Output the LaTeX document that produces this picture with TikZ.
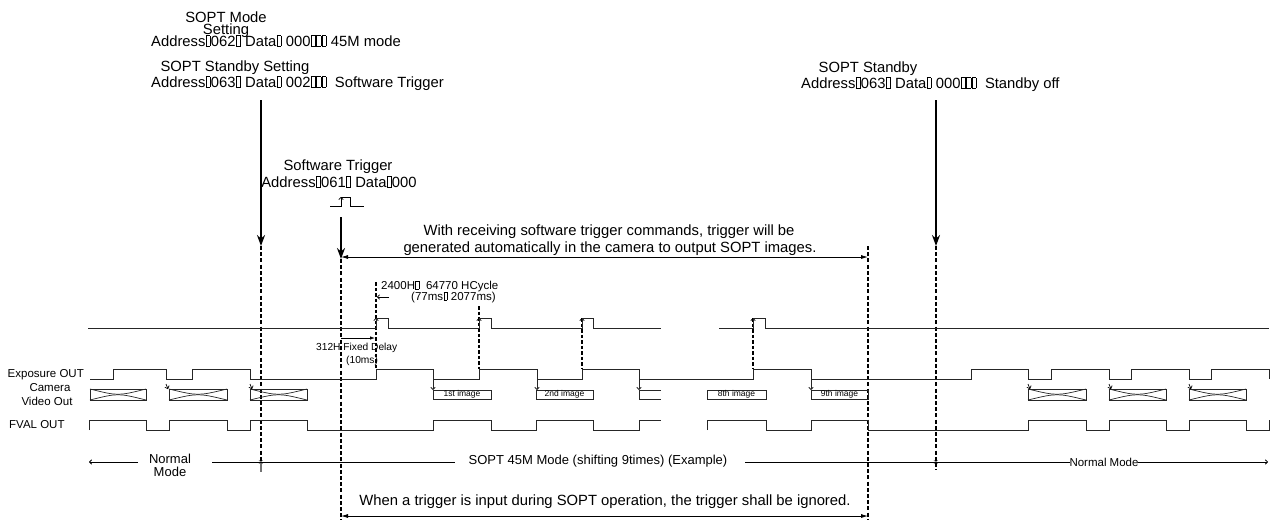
\documentclass[tikz,border=0pt]{standalone}
\usepackage{fontspec}
\setmainfont{Liberation Sans}
\usetikzlibrary{arrows.meta}
\newcommand\tofu{\kern0.4pt{\fboxsep0pt\fboxrule0.45pt\fbox{\rule{0pt}{0.68em}\hspace{0.25em}}}\kern0.4pt}
\begin{document}
\begin{tikzpicture}[x=1pt,y=-1pt,
  wave/.style={line width=0.9pt, draw=black!85},
  bigdash/.style={line width=1.5pt, dash pattern=on 4pt off 2.2pt},
  smalldash/.style={line width=1.1pt, dash pattern=on 3.5pt off 2pt},
  bigarrow/.style={line width=2.4pt, -{Stealth[length=11pt,width=8pt]}},
  spanarrow/.style={line width=0.8pt, {Latex[length=7pt,width=4pt]}-{Latex[length=7pt,width=4pt]}},
  tinytip/.style={line width=0.7pt, -{To[length=3pt,width=5pt]}},
  big/.style={font=\fontsize{14.8}{16}\selectfont, inner sep=0pt},
  mid/.style={font=\fontsize{13}{14}\selectfont, inner sep=0pt},
  lbl/.style={font=\fontsize{11.5}{13}\selectfont, inner sep=0pt},
  small/.style={font=\fontsize{10.2}{11}\selectfont, inner sep=0pt},
  imgbox/.style={draw=black!85, line width=0.9pt, font=\fontsize{8.5}{9}\selectfont, inner sep=0pt}
]
\useasboundingbox (0,0) rectangle (1271,520);

% ---------- top labels ----------
\node[big, anchor=base] (modeA) at (226,22) {SOPT Mode};
\node[big, anchor=base] (modeB) at (226,34) {Setting};
\node[big, anchor=base west] (modeC) at (151,46) {Address\tofu062\tofu\ Data\tofu\ 000\tofu\tofu\tofu\ 45M mode};
\node[big, anchor=base] (stbA) at (235,71) {SOPT Standby Setting};
\node[big, anchor=base west] (stbB) at (151,87) {Address\tofu063\tofu\ Data\tofu\ 002\tofu\tofu\tofu\ \ Software Trigger};

\node[big, anchor=base] (swA) at (338,170) {Software Trigger};
\node[big, anchor=base] (swB) at (339,187) {Address\tofu061\tofu\ Data\tofu000};

\node[big, anchor=base] (offA) at (868,72) {SOPT Standby};
\node[big, anchor=base west] (offB) at (801,88) {Address\tofu063\tofu\ Data\tofu\ 000\tofu\tofu\tofu\ \ Standby off};

% ---------- command arrows ----------
\coordinate (c1t) at (261,100); \coordinate (c1b) at (261,246);
\coordinate (c2t) at (341,217); \coordinate (c2b) at (341,259);
\coordinate (c3t) at (936,100); \coordinate (c3b) at (936,246);
\draw[bigarrow] (c1t) -- (c1b);
\draw[bigarrow] (c2t) -- (c2b);
\draw[bigarrow] (c3t) -- (c3b);

% small pulse glyph
\draw[line width=0.8pt] (330,206) -- (341,206) -- (341,197) -- (350,197) -- (350,206) -- (364,206);
\draw[tinytip] (341,202) -- (341,197);

% ---------- dashed markers ----------
\coordinate (d1a) at (261,246); \coordinate (d1b) at (261,462);
\coordinate (d2a) at (341,259); \coordinate (d2b) at (341,520);
\coordinate (d3a) at (868,246); \coordinate (d3b) at (868,520);
\coordinate (d4a) at (936,246); \coordinate (d4b) at (936,470);
\draw[bigdash] (d1a) -- (d1b);
\draw[black!55, line width=1.2pt] (261,462) -- (261,472);
\draw[bigdash] (d2a) -- (d2b);
\draw[bigdash] (d3a) -- (d3b);
\draw[bigdash] (d4a) -- (d4b);

% ---------- text with span arrow ----------
\node[big, anchor=base] (recA) at (609,235) {With receiving software trigger commands, trigger will be};
\node[big, anchor=base] (recB) at (610,252) {generated automatically in the camera to output SOPT images.};
\coordinate (s1a) at (341,257); \coordinate (s1b) at (868,257);
\draw[spanarrow] (s1a) -- (s1b);

% ---------- timing annotations ----------
\node[lbl, anchor=base west] (hcA) at (381,289) {2400H\tofu\ \ 64770 HCycle};
\node[lbl, anchor=base west] (hcB) at (411,300) {(77ms\tofu\ 2077ms)};
\draw[tinytip] (389,297) -- (377,297);

\draw[smalldash] (376,282) -- (376,369);
\draw[smalldash] (479,306) -- (479,369);
\draw[smalldash] (582,318) -- (582,369);
\draw[smalldash] (753,318) -- (753,369);
\foreach \x in {376,479,582,753} \draw[tinytip] (\x,322) -- (\x,318);

\node[small, anchor=base west] (fdA) at (316,350) {312H Fixed Delay};
\node[small, anchor=base west] (fdB) at (346,363) {(10ms)};
\draw[line width=0.8pt, -{Latex[length=5pt,width=3.5pt]}] (341,338) -- (375,338);

% ---------- row labels ----------
\node[lbl, anchor=base east] (lExp) at (84,377) {Exposure OUT};
\node[lbl, anchor=base] (lCam) at (50,391) {Camera};
\node[lbl, anchor=base] (lVid) at (47,405) {Video Out};
\node[lbl, anchor=base west] (lFval) at (9,428) {FVAL OUT};

% ---------- trigger row ----------
\draw[wave] (88,328) -- (376,328) -- (376,318) -- (388,318) -- (388,328) -- (479,328) -- (479,318) -- (491,318) -- (491,328) -- (582,328) -- (582,318) -- (593,318) -- (593,328) -- (661,328);
\draw[wave] (719,328) -- (753,328) -- (753,318) -- (765,318) -- (765,328) -- (1269,328);

% ---------- exposure row ----------
\draw[wave] (90,379) -- (113,379) -- (113,369) -- (166,369) -- (166,379) -- (192,379) -- (192,369) -- (250,369) -- (250,379) -- (376,379) -- (376,369) -- (433,369) -- (433,379) -- (479,379) -- (479,369) -- (537,369) -- (537,379) -- (582,379) -- (582,369) -- (639,369) -- (639,379) -- (753,379) -- (753,369) -- (811,369) -- (811,379) -- (971,379) -- (971,369) -- (1028,369) -- (1028,379) -- (1051,379) -- (1051,369) -- (1109,369) -- (1109,379) -- (1131,379) -- (1131,369) -- (1189,369) -- (1189,379) -- (1211,379) -- (1211,369) -- (1269,369) -- (1269,379);

% ---------- video row ----------
\foreach \a/\b in {90/146,169/227,250/307,1028/1086,1109/1166,1189/1246}{
  \draw[wave] (\a,389) rectangle (\b,400);
  \draw[wave, line width=0.7pt] (\a,389) .. controls ({(\a+\b)/2},396) .. (\b,389);
  \draw[wave, line width=0.7pt] (\a,400) .. controls ({(\a+\b)/2},393) .. (\b,400);
}
\foreach \x in {166,250,1028,1109,1189} \draw[tinytip] (\x,384) -- (\x+2,389);
\foreach \x in {433,537,639,811} \draw[wave, -{To[length=3pt,width=5pt]}] (\x,379) -- (\x,390);

\node[imgbox, minimum width=58pt, minimum height=9pt] (im1) at (462,394.5) {1st image};
\node[imgbox, minimum width=57pt, minimum height=9pt] (im2) at (564.5,394.5) {2nd image};
\node[imgbox, minimum width=59pt, minimum height=9pt] (im8) at (736.5,394.5) {8th image};
\node[imgbox, minimum width=57pt, minimum height=9pt] (im9) at (839.5,394.5) {9th image};
\draw[wave] (661,390) -- (639,390) -- (639,399) -- (661,399);

% ---------- FVAL row ----------
\draw[wave] (89,430) -- (89,420) -- (146,420) -- (146,430) -- (169,430) -- (169,420) -- (227,420) -- (227,430) -- (250,430) -- (250,420) -- (307,420) -- (307,430) -- (433,430) -- (433,420) -- (491,420) -- (491,430) -- (536,430) -- (536,420) -- (593,420) -- (593,430) -- (639,430) -- (639,420) -- (661,420);
\draw[wave] (707,430) -- (707,420) -- (766,420) -- (766,430) -- (811,430) -- (811,420) -- (868,420) -- (868,430) -- (1028,430) -- (1028,420) -- (1086,420) -- (1086,430) -- (1109,430) -- (1109,420) -- (1166,420) -- (1166,430) -- (1189,430) -- (1189,420) -- (1246,420) -- (1246,430) -- (1269,430) -- (1269,420);

% ---------- mode bar ----------
\node[mid, align=center, anchor=north] (nm1) at (170,454) {Normal\\[-1.5pt]Mode};
\node[mid, anchor=base] (sopt) at (598,464) {SOPT 45M Mode (shifting 9times) (Example)};
\node[lbl, anchor=base] (nm2) at (1104,466) {Normal Mode};
\coordinate (m0) at (89,462); \coordinate (m1) at (138,462);
\coordinate (m2) at (212,462); \coordinate (m3) at (455,462);
\coordinate (m4) at (745,462); \coordinate (m5) at (1070,462);
\coordinate (m6) at (1138,462); \coordinate (m7) at (1268,462);
\draw[line width=0.8pt, -{To[length=3pt,width=5pt]}] (m1) -- (m0);
\draw[line width=0.8pt] (m2) -- (m3);
\draw[line width=0.8pt] (m4) -- (m5);
\draw[line width=0.8pt, -{To[length=3pt,width=5pt]}] (m6) -- (m7);
\foreach \x in {261,936} \node[font=\fontsize{8}{8}\selectfont, inner sep=0pt] at (\x,462) {$\times$};

% ---------- ignored note ----------
\node[big, anchor=base] (ign) at (605,505) {When a trigger is input during SOPT operation, the trigger shall be ignored.};
\coordinate (s2a) at (341,516); \coordinate (s2b) at (868,516);
\draw[spanarrow] (s2a) -- (s2b);
\end{tikzpicture}
\end{document}
